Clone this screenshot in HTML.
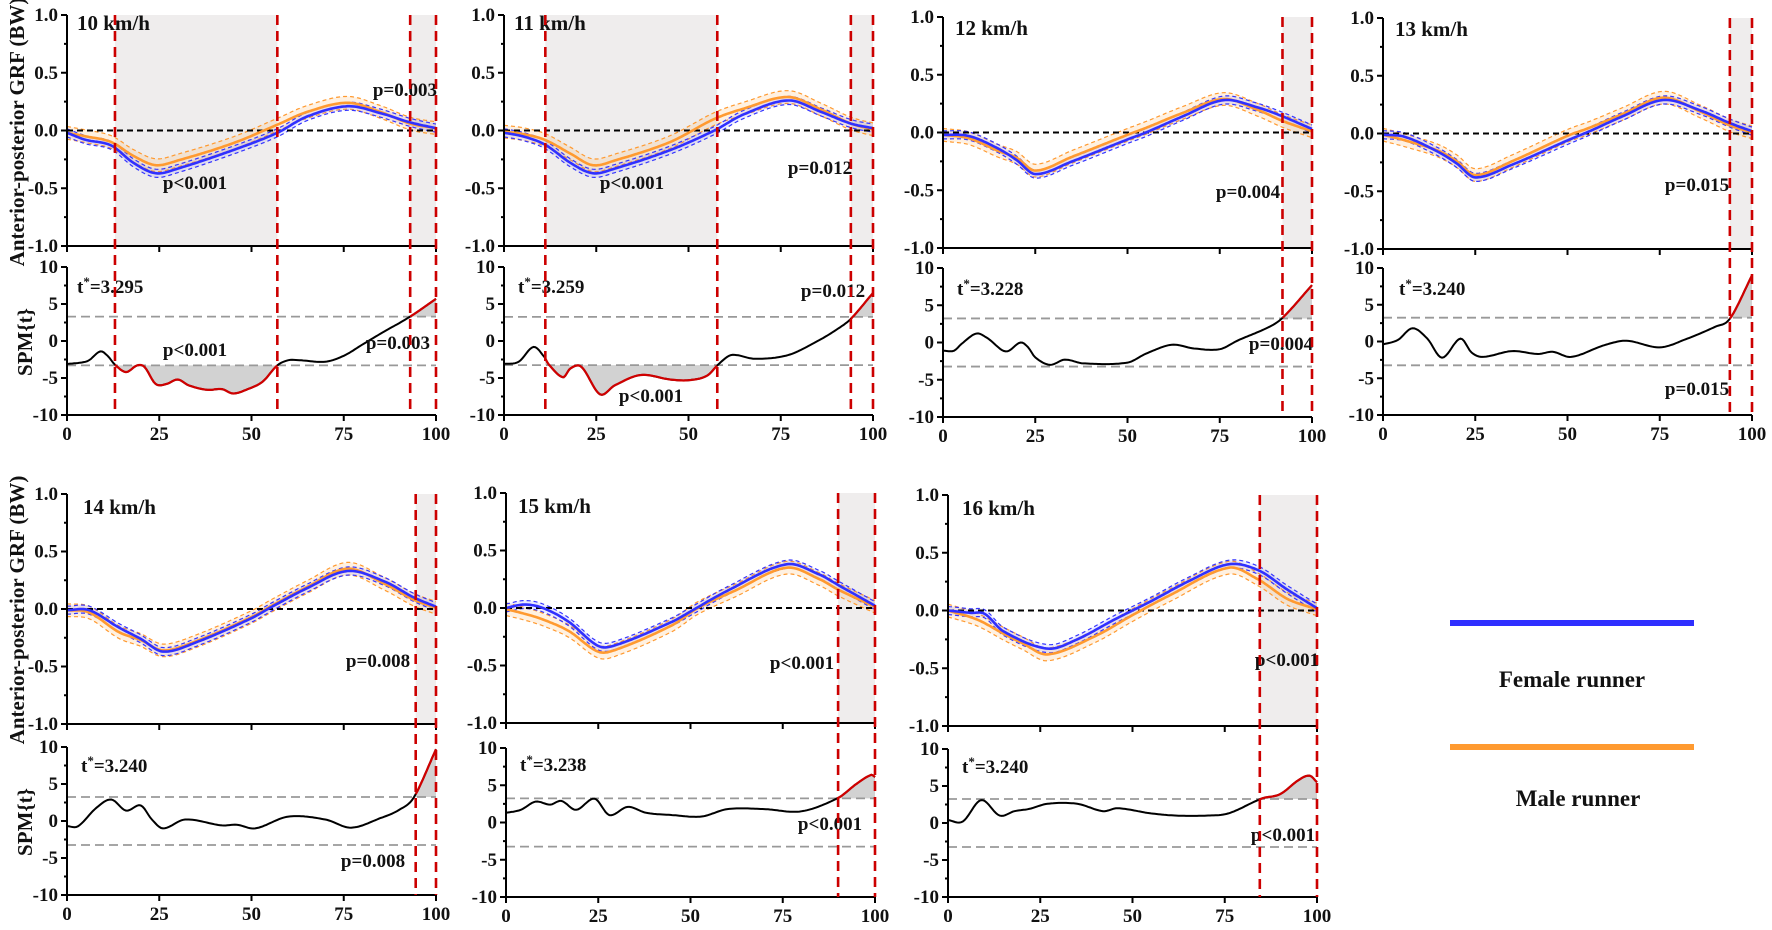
<!DOCTYPE html>
<html><head><meta charset="utf-8">
<style>
html,body{margin:0;padding:0;background:#fff;}
svg{display:block;}
text{font-family:"Liberation Serif",serif;font-weight:bold;fill:#111;}
.tk{font-size:19px;}
.ttl{font-size:21px;}
.p{font-size:19px;}
</style></head>
<body>
<svg id="s" width="1772" height="930" viewBox="0 0 1772 930" xmlns="http://www.w3.org/2000/svg">
<rect width="1772" height="930" fill="#fff"/>
<text transform="translate(24,132) rotate(-90)" text-anchor="middle" style="font-size:21px">Anterior-posterior GRF (BW)</text>
<text transform="translate(32,342) rotate(-90)" text-anchor="middle" style="font-size:21px">SPM{t}</text>
<text transform="translate(24,610) rotate(-90)" text-anchor="middle" style="font-size:21px">Anterior-posterior GRF (BW)</text>
<text transform="translate(32,822) rotate(-90)" text-anchor="middle" style="font-size:21px">SPM{t}</text>

<g id="P1" transform="translate(67,15)"><g class="d"></g>
<text class="ttl" x="10" y="15">10 km/h</text>
<text class="p" x="10" y="278">t<tspan dy="-7" style="font-size:13px">*</tspan><tspan dy="7">=3.295</tspan></text>
<text class="p" x="128" y="174" text-anchor="middle">p&lt;0.001</text>
<text class="p" x="370" y="81" text-anchor="end">p=0.003</text>
<text class="p" x="128" y="341" text-anchor="middle">p&lt;0.001</text>
<text class="p" x="363" y="334" text-anchor="end">p=0.003</text>
</g>
<g id="P2" transform="translate(504,15)"><g class="d"></g>
<text class="ttl" x="10" y="15">11 km/h</text>
<text class="p" x="14" y="278">t<tspan dy="-7" style="font-size:13px">*</tspan><tspan dy="7">=3.259</tspan></text>
<text class="p" x="128" y="174" text-anchor="middle">p&lt;0.001</text>
<text class="p" x="316" y="159" text-anchor="middle">p=0.012</text>
<text class="p" x="329" y="282" text-anchor="middle">p=0.012</text>
<text class="p" x="147" y="387" text-anchor="middle">p&lt;0.001</text>
</g>
<g id="P3" transform="translate(943,17)"><g class="d"></g>
<text class="ttl" x="12" y="18">12 km/h</text>
<text class="p" x="14" y="278">t<tspan dy="-7" style="font-size:13px">*</tspan><tspan dy="7">=3.228</tspan></text>
<text class="p" x="305" y="181" text-anchor="middle">p=0.004</text>
<text class="p" x="338" y="333" text-anchor="middle">p=0.004</text>
</g>
<g id="P4" transform="translate(1383,18)"><g class="d"></g>
<text class="ttl" x="12" y="18">13 km/h</text>
<text class="p" x="16" y="277">t<tspan dy="-7" style="font-size:13px">*</tspan><tspan dy="7">=3.240</tspan></text>
<text class="p" x="314" y="173" text-anchor="middle">p=0.015</text>
<text class="p" x="314" y="377" text-anchor="middle">p=0.015</text>
</g>
<g id="P5" transform="translate(67,494)"><g class="d"></g>
<text class="ttl" x="16" y="20">14 km/h</text>
<text class="p" x="14" y="278">t<tspan dy="-7" style="font-size:13px">*</tspan><tspan dy="7">=3.240</tspan></text>
<text class="p" x="311" y="173" text-anchor="middle">p=0.008</text>
<text class="p" x="306" y="373" text-anchor="middle">p=0.008</text>
</g>
<g id="P6" transform="translate(506,493)"><g class="d"></g>
<text class="ttl" x="12" y="20">15 km/h</text>
<text class="p" x="14" y="278">t<tspan dy="-7" style="font-size:13px">*</tspan><tspan dy="7">=3.238</tspan></text>
<text class="p" x="296" y="176" text-anchor="middle">p&lt;0.001</text>
<text class="p" x="324" y="337" text-anchor="middle">p&lt;0.001</text>
</g>
<g id="P7" transform="translate(948,495)"><g class="d"></g>
<text class="ttl" x="14" y="20">16 km/h</text>
<text class="p" x="14" y="278">t<tspan dy="-7" style="font-size:13px">*</tspan><tspan dy="7">=3.240</tspan></text>
<text class="p" x="339" y="171" text-anchor="middle">p&lt;0.001</text>
<text class="p" x="335" y="346" text-anchor="middle">p&lt;0.001</text>
</g>

<line x1="1450" y1="623" x2="1694" y2="623" stroke="#2f2fff" stroke-width="6"/>
<text x="1572" y="687" text-anchor="middle" style="font-size:23px">Female runner</text>
<line x1="1450" y1="747" x2="1694" y2="747" stroke="#ff9a30" stroke-width="6"/>
<text x="1578" y="806" text-anchor="middle" style="font-size:23px">Male runner</text>
</svg>
<script>
(function(){
var NS="http://www.w3.org/2000/svg";
function el(p,n,a){var e=document.createElementNS(NS,n);for(var k in a)e.setAttribute(k,a[k]);p.appendChild(e);return e;}
function txt(p,x,y,s,anc){var e=el(p,"text",{x:x,y:y,"class":"tk","text-anchor":anc||"middle"});e.textContent=s;return e;}
function cr(pts){return function(t){var n=pts.length,i=0;if(t<=pts[0][0])return pts[0][1];if(t>=pts[n-1][0])return pts[n-1][1];
while(i<n-2&&t>pts[i+1][0])i++;var p1=pts[i],p2=pts[i+1],p0=pts[Math.max(0,i-1)],p3=pts[Math.min(n-1,i+2)];
var s=(t-p1[0])/(p2[0]-p1[0]);var m1=(p2[1]-p0[1])/(p2[0]-p0[0])*(p2[0]-p1[0]);var m2=(p3[1]-p1[1])/(p3[0]-p1[0])*(p2[0]-p1[0]);
if(p0===p1)m1=(p2[1]-p1[1]);if(p3===p2)m2=(p2[1]-p1[1]);
var s2=s*s,s3=s2*s;return (2*s3-3*s2+1)*p1[1]+(s3-2*s2+s)*m1+(-2*s3+3*s2)*p2[1]+(s3-s2)*m2;};}
var W=369,X=function(t){return t*W/100;};
function path(f,a,b,Y,off){var d="";for(var t=a;t<=b+1e-9;t+=0.5){d+=(d?"L":"M")+X(t).toFixed(1)+","+Y(f(t)+(off||0)).toFixed(1);}return d;}
var P={
P1:{f:[[0,-0.02],[5,-0.08],[12,-0.13],[18,-0.28],[24,-0.37],[30,-0.33],[45,-0.17],[57,-0.02],[65,0.12],[76,0.21],[85,0.15],[93,0.07],[100,0.02]],
 m:[[0,-0.02],[5,-0.05],[12,-0.10],[18,-0.22],[24,-0.30],[30,-0.26],[45,-0.11],[57,0.05],[65,0.16],[76,0.24],[85,0.16],[93,0.06],[100,0.02]],
 s:[[0,-3.1],[4,-2.9],[6,-2.6],[9,-1.4],[11,-2.0],[13,-3.2],[16,-4.2],[19,-3.3],[21,-3.5],[24,-5.8],[27,-5.8],[30,-5.2],[33,-6.0],[38,-6.6],[42,-6.5],[45,-7.1],[49,-6.5],[53,-5.5],[57,-3.3],[60,-2.6],[63,-2.6],[70,-2.8],[75,-2.0],[80,-0.5],[85,1.0],[93,3.3],[100,5.7]],
 thr:3.295,sig:[[13,57],[93,100]],top:[[13,57],[93,100]],ys:[0,231,252,400]},
P2:{f:[[0,-0.02],[5,-0.05],[11,-0.12],[18,-0.28],[24,-0.37],[30,-0.33],[45,-0.17],[57,0.0],[65,0.14],[77,0.26],[86,0.16],[94,0.06],[100,0.02]],
 m:[[0,-0.01],[5,-0.03],[11,-0.08],[18,-0.2],[24,-0.30],[30,-0.26],[45,-0.1],[57,0.1],[65,0.19],[77,0.29],[86,0.18],[94,0.06],[100,0.01]],
 s:[[0,-3.1],[4,-2.8],[8,-0.8],[11,-2.2],[12,-3.1],[16,-4.9],[18,-3.7],[21,-3.5],[26,-7.2],[30,-6.0],[37,-4.6],[45,-5.2],[50,-5.3],[55,-4.7],[58,-3.2],[61,-2.0],[63,-1.9],[68,-2.4],[77,-1.9],[85,0],[90,1.5],[94,3.0],[100,6.5]],
 thr:3.259,sig:[[11.2,57.8],[94,100]],top:[[11.2,57.8],[94,100]],ys:[0,231,252,400]},
P3:{f:[[0,-0.02],[7,-0.03],[15,-0.14],[20,-0.24],[25,-0.36],[35,-0.25],[50,-0.06],[55,0.0],[65,0.14],[76,0.28],[85,0.22],[92,0.14],[100,0.03]],
 m:[[0,-0.02],[7,-0.05],[15,-0.16],[20,-0.22],[25,-0.33],[35,-0.21],[50,-0.02],[55,0.04],[65,0.17],[76,0.29],[85,0.2],[92,0.1],[100,0.01]],
 s:[[0,-1.1],[3,-1.1],[5,-0.2],[9,1.2],[12,0.6],[17,-1.2],[21,0.0],[23,-0.6],[25,-2.0],[29,-3.0],[33,-2.3],[38,-2.8],[50,-2.7],[55,-1.5],[62,-0.3],[68,-0.8],[75,-0.9],[80,0.3],[88,2.0],[92,3.3],[100,7.7]],
 thr:3.228,sig:[[92,100]],top:[[92,100]],ys:[0,231,251,400]},
P4:{f:[[0,-0.01],[6,-0.03],[15,-0.16],[20,-0.26],[25,-0.38],[35,-0.27],[50,-0.06],[56,0.02],[65,0.15],[76,0.29],[86,0.2],[94,0.09],[100,0.02]],
 m:[[0,-0.01],[6,-0.06],[15,-0.15],[20,-0.24],[25,-0.36],[35,-0.24],[50,-0.02],[56,0.05],[65,0.17],[76,0.31],[86,0.19],[94,0.07],[100,0.01]],
 s:[[0,-0.4],[4,0.2],[8,1.8],[12,0.4],[16,-2.2],[21,0.4],[24,-1.5],[27,-2.1],[35,-1.3],[42,-1.7],[46,-1.4],[51,-2.1],[60,-0.5],[66,0.1],[75,-0.8],[82,0.3],[90,2.0],[94,3.1],[100,9.0]],
 thr:3.24,sig:[[94,100]],top:[[94,100]],ys:[0,231,250,397]},
P5:{f:[[0,-0.01],[6,-0.01],[14,-0.16],[20,-0.26],[26,-0.37],[35,-0.29],[50,-0.08],[55,0.01],[65,0.18],[76,0.33],[86,0.24],[94,0.1],[100,0.02]],
 m:[[0,-0.01],[6,-0.03],[14,-0.2],[20,-0.27],[26,-0.36],[35,-0.28],[50,-0.07],[55,0.02],[65,0.19],[76,0.35],[86,0.22],[94,0.08],[100,0.01]],
 s:[[0,-0.7],[3,-0.7],[8,1.8],[12,2.9],[16,1.4],[20,2.1],[23,0.2],[26,-1.0],[32,0.2],[42,-0.6],[46,-0.5],[51,-1.0],[60,0.6],[70,0.2],[77,-0.9],[85,0.4],[90,1.5],[94,3.2],[100,9.7]],
 thr:3.24,sig:[[94.5,100]],top:[[94.5,100]],ys:[0,230,253,401]},
P6:{f:[[0,0],[5,0.03],[10,0.0],[17,-0.12],[25,-0.33],[30,-0.32],[45,-0.12],[50,-0.03],[60,0.15],[76,0.38],[85,0.29],[90,0.2],[100,0.02]],
 m:[[0,-0.01],[5,-0.05],[10,-0.1],[17,-0.2],[25,-0.38],[30,-0.36],[45,-0.15],[52,0.0],[62,0.15],[76,0.35],[85,0.25],[90,0.16],[100,0.01]],
 s:[[0,1.3],[4,1.7],[8,2.8],[12,2.4],[15,2.9],[19,1.7],[24,3.2],[28,1.0],[33,2.1],[38,1.3],[45,1.0],[53,0.8],[60,1.8],[70,1.8],[80,1.5],[90,3.3],[95,5.2],[99,6.4],[100,6.1]],
 thr:3.238,sig:[[90,100]],top:[[90,100]],ys:[0,230,255,404]},
P7:{f:[[0,0],[6,-0.02],[10,-0.03],[15,-0.18],[27,-0.33],[35,-0.25],[45,-0.08],[55,0.08],[65,0.25],[76,0.40],[84,0.35],[92,0.18],[100,0.02]],
 m:[[0,0],[8,-0.08],[15,-0.2],[20,-0.28],[27,-0.38],[40,-0.22],[50,-0.04],[60,0.13],[76,0.37],[84,0.27],[92,0.1],[100,0.01]],
 s:[[0,0.4],[4,0.2],[9,3.1],[14,1.0],[18,1.6],[22,1.9],[27,2.6],[35,2.6],[42,1.6],[46,2.0],[55,1.3],[62,1.0],[70,1.0],[76,1.3],[85,3.3],[90,3.9],[95,5.8],[98,6.4],[100,5.5]],
 thr:3.24,sig:[[84.5,100]],top:[[84.5,100]],ys:[0,231,254,402]}
};
for(var id in P){var c=P[id];var g=document.getElementById(id);var d=g.querySelector(".d");
 var t0=c.ys[0],t1=c.ys[1],s0=c.ys[2],s1=c.ys[3];
 var yt=function(v){return t0+(1-v)/2*(t1-t0);};
 var ys=function(v){return s0+(10-v)/20*(s1-s0);};
 var ff=cr(c.f),fm=cr(c.m),fs=cr(c.s);
 c.top.forEach(function(r){el(d,"rect",{x:X(r[0]),y:t0,width:X(r[1])-X(r[0]),height:t1-t0,fill:"#efeded"});});
 [[fm,"#ff9a30","rgba(255,165,70,0.16)",0.055],[ff,"#3535ff","rgba(90,90,255,0.12)",0.035]].forEach(function(q){
  var up=path(q[0],0,100,yt,q[3]),lo="";for(var t=100;t>=0;t-=0.5)lo+="L"+X(t).toFixed(1)+","+yt(q[0](t)-q[3]).toFixed(1);
  el(d,"path",{d:up+lo+"Z",fill:q[2]});
  el(d,"path",{d:up,fill:"none",stroke:q[1],"stroke-width":1.2,"stroke-dasharray":"4,3"});
  el(d,"path",{d:path(q[0],0,100,yt,-q[3]),fill:"none",stroke:q[1],"stroke-width":1.2,"stroke-dasharray":"4,3"});
 });
 el(d,"line",{x1:0,y1:yt(0),x2:W,y2:yt(0),stroke:"#000","stroke-width":2,"stroke-dasharray":"6,4"});
 el(d,"path",{d:path(fm,0,100,yt),fill:"none",stroke:"#ff9a30","stroke-width":2.6});
 el(d,"path",{d:path(ff,0,100,yt),fill:"none",stroke:"#3030ff","stroke-width":2.6});
 c.sig.forEach(function(r){var v=fs((r[0]+r[1])/2),th=v>0?c.thr:-c.thr;var dd=path(fs,r[0],r[1],ys);
  el(d,"path",{d:dd+"L"+X(r[1])+","+ys(th)+"L"+X(r[0])+","+ys(th)+"Z",fill:"#d2d2d2"});});
 el(d,"line",{x1:0,y1:ys(c.thr),x2:W,y2:ys(c.thr),stroke:"#999","stroke-width":1.8,"stroke-dasharray":"9,5"});
 el(d,"line",{x1:0,y1:ys(-c.thr),x2:W,y2:ys(-c.thr),stroke:"#999","stroke-width":1.8,"stroke-dasharray":"9,5"});
 el(d,"path",{d:path(fs,0,100,ys),fill:"none",stroke:"#000","stroke-width":2});
 c.sig.forEach(function(r){el(d,"path",{d:path(fs,r[0],r[1],ys),fill:"none",stroke:"#d00000","stroke-width":2.2});});
 el(d,"path",{d:"M0,"+t0+"V"+t1+"H"+W+"M0,"+s0+"V"+s1+"H"+W,fill:"none",stroke:"#000","stroke-width":2});
 var tk="";
 for(var i=0;i<=4;i++){var x=X(i*25);tk+="M"+x+","+t1+"v6M"+x+","+s1+"v6";}
 for(var i=0;i<=8;i++){var y=t0+i*(t1-t0)/8;tk+="M0,"+y+"h"+(i%2?-3:-6);var y2=s0+i*(s1-s0)/8;tk+="M0,"+y2+"h"+(i%2?-3:-6);}
 el(d,"path",{d:tk,stroke:"#000","stroke-width":2,fill:"none"});
 var lt=["1.0","0.5","0.0","-0.5","-1.0"],ls=["10","5","0","-5","-10"];
 for(var i=0;i<5;i++){txt(g,-9,t0+i*(t1-t0)/4+6,lt[i],"end");txt(g,-9,s0+i*(s1-s0)/4+6,ls[i],"end");txt(g,X(i*25),s1+25,String(i*25));}
 var rl=[];c.sig.forEach(function(r){rl.push(r[0],r[1]);});
 rl.forEach(function(t){el(g,"line",{x1:X(t),y1:t0,x2:X(t),y2:s1,stroke:"#cc0000","stroke-width":2.6,"stroke-dasharray":"10,6"});});
}
})();
</script>
</body></html>
